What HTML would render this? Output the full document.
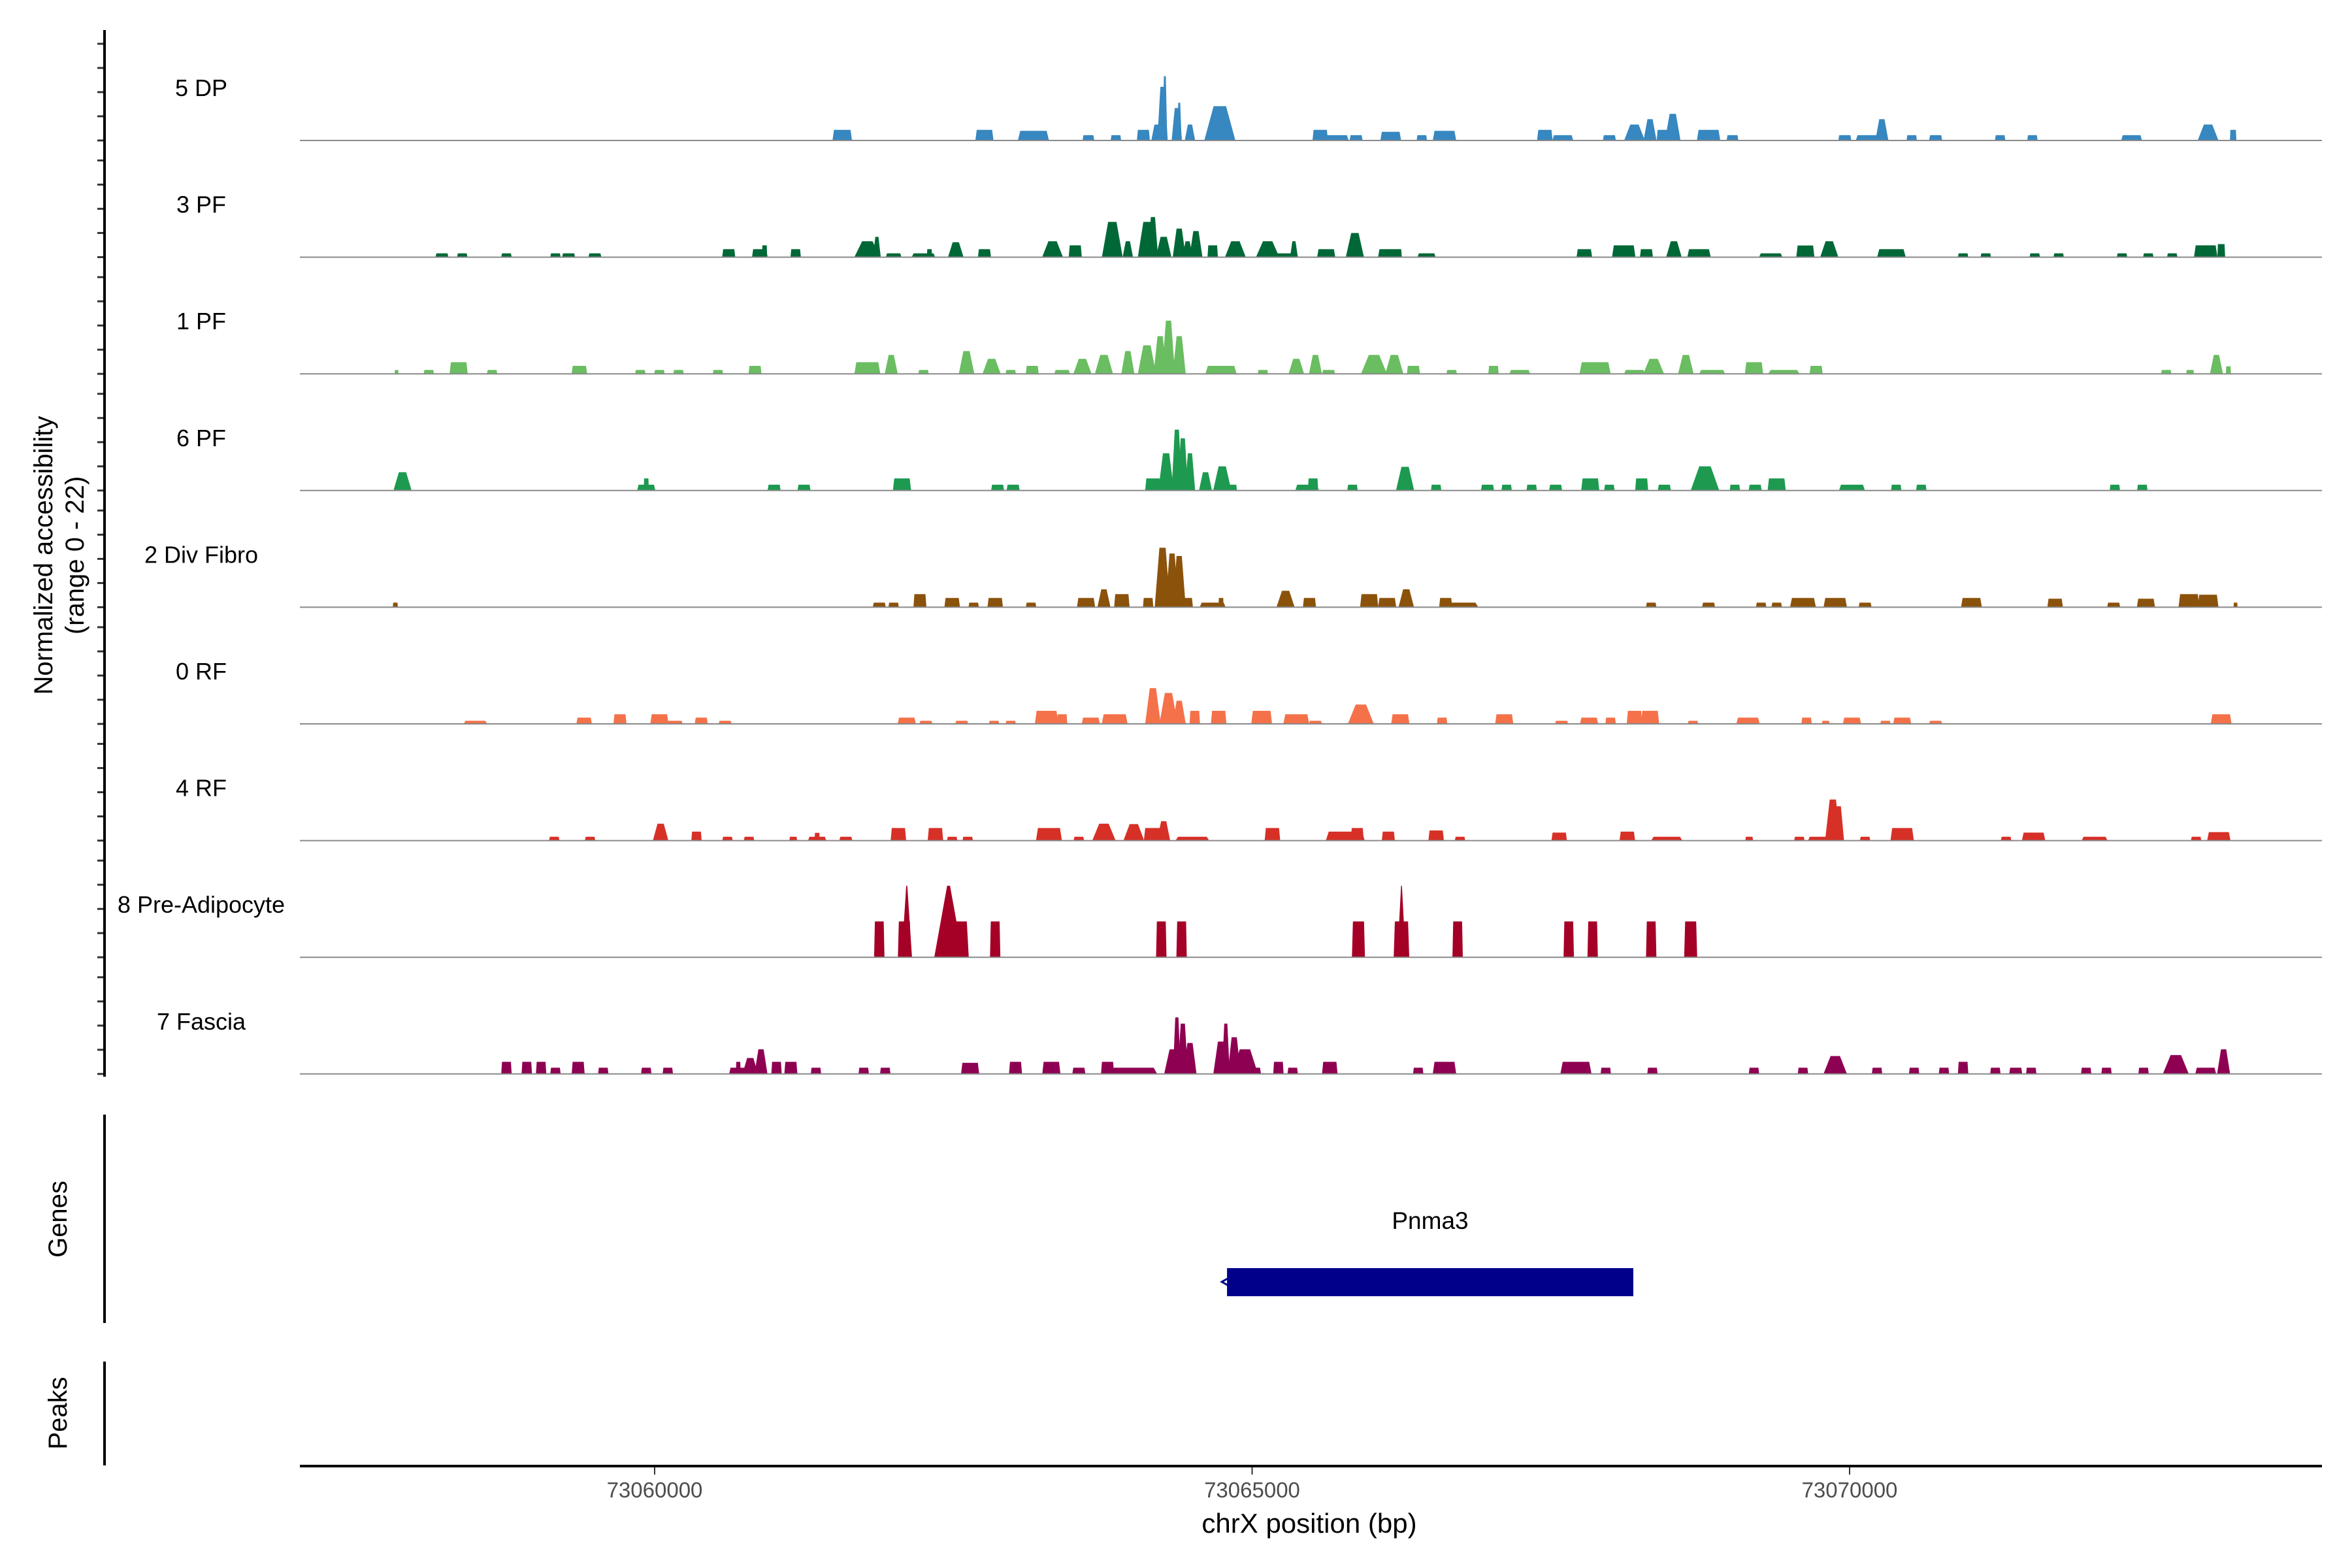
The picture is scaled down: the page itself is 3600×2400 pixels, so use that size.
<!DOCTYPE html>
<html><head><meta charset="utf-8"><title>Coverage plot chrX Pnma3</title>
<style>
html,body{margin:0;padding:0;background:#fff;}
svg{display:block;font-family:"Liberation Sans",Arial,sans-serif;}
</style></head>
<body>
<svg id="plot" width="3600" height="2400" viewBox="0 0 3600 2400" xmlns="http://www.w3.org/2000/svg">
<rect x="0" y="0" width="3600" height="2400" fill="#fff"/>
<g id="tracks"></g>
<g id="yaxis"></g>
<text transform="translate(80,850) rotate(-90)" text-anchor="middle" font-size="40" fill="#000">Normalized accessibility</text>
<text transform="translate(128,850) rotate(-90)" text-anchor="middle" font-size="40" fill="#000">(range 0 - 22)</text>
<line x1="160" y1="1706" x2="160" y2="2025" stroke="#000" stroke-width="4"/>
<text transform="translate(102,1866) rotate(-90)" text-anchor="middle" font-size="40" fill="#000">Genes</text>
<line x1="160" y1="2084" x2="160" y2="2243" stroke="#000" stroke-width="4"/>
<text transform="translate(102,2163) rotate(-90)" text-anchor="middle" font-size="40" fill="#000">Peaks</text>
<g id="genes"></g>
<g id="xaxis"></g>
<text x="2004" y="2346" text-anchor="middle" font-size="42" fill="#000">chrX position (bp)</text>
</svg>
<script>
// ---- data ----
const startKb = 73057; // positions below are kb offsets from 73,057 kb
const trackNames = ["5 DP","3 PF","1 PF","6 PF","2 Div Fibro","0 RF","4 RF","8 Pre-Adipocyte","7 Fascia"];
const trackColors = ["#3787c0","#006837","#6abd61","#1d9a50","#8b520b","#f4714a","#d73027","#a50026","#8e0152"];
// each peak: [position kb offset, width bp, height (normalized)]
const peaks5DP = [[4.57,163,2.2],[5.76,152,2.2],[6.17,260,2.0],[6.63,98,1.1],[6.86,87,1.1],[7.09,109,2.2],[7.20,87,3.3],[7.25,87,11.1],[7.27,40,13.3],[7.37,87,6.7],[7.39,40,7.8],[7.48,87,3.3],[7.73,260,7.1],[8.57,130,2.2],[8.70,217,1.1],[8.87,109,1.1],[9.16,174,1.8],[9.42,87,1.1],[9.61,196,2.0],[10.45,130,2.2],[10.60,174,1.1],[10.99,109,1.1],[11.20,174,3.3],[11.33,109,4.4],[11.44,109,2.2],[11.52,130,5.5],[11.82,196,2.2],[12.02,98,1.1],[12.96,109,1.1],[13.15,196,1.1],[13.27,109,4.4],[13.52,87,1.1],[13.72,109,1.1],[14.26,87,1.1],[14.53,87,1.1],[15.36,174,1.1],[16.00,174,3.3],[16.21,54,2.2]];
const peaks3PF = [[1.22,109,0.8],[1.39,87,0.8],[1.76,87,0.8],[2.17,87,0.8],[2.28,109,0.8],[2.50,109,0.8],[3.62,109,1.65],[3.88,130,1.65],[3.92,43,2.45],[4.18,87,1.65],[4.78,217,3.3],[4.86,65,4.2],[5.00,130,0.8],[5.25,196,0.8],[5.30,43,1.65],[5.52,130,3.1],[5.76,109,1.65],[6.33,174,3.3],[6.52,109,2.45],[6.83,174,7.3],[6.96,87,3.3],[7.12,152,7.3],[7.17,87,8.3],[7.26,130,4.2],[7.39,109,5.9],[7.46,87,3.3],[7.53,109,5.4],[7.67,87,2.45],[7.86,174,3.3],[8.13,196,3.3],[8.26,217,0.8],[8.35,65,3.3],[8.62,152,1.65],[8.86,152,5.0],[9.13,152,1.65],[9.22,65,1.65],[9.46,152,0.8],[10.78,130,1.65],[11.11,196,2.45],[11.30,109,1.65],[11.53,130,3.3],[11.74,196,1.65],[12.34,196,0.8],[12.63,152,2.4],[12.83,152,3.3],[13.35,239,1.65],[13.95,87,0.8],[14.14,87,0.8],[14.55,87,0.8],[14.75,87,0.8],[15.28,87,0.8],[15.50,87,0.8],[15.70,87,0.8],[15.98,196,2.45],[16.11,65,2.7]];
const peaks1PF = [[0.84,33,0.8],[1.11,87,0.8],[1.36,152,2.4],[1.64,87,0.8],[2.37,130,1.65],[2.88,87,0.8],[3.04,87,0.8],[3.20,87,0.8],[3.53,87,0.8],[3.84,109,1.65],[4.78,217,2.4],[4.98,109,3.9],[5.25,87,0.8],[5.61,130,4.7],[5.82,152,3.1],[5.98,87,0.8],[6.16,109,1.65],[6.41,130,0.8],[6.58,152,3.1],[6.76,152,3.9],[6.96,109,4.7],[7.12,152,5.9],[7.23,109,7.8],[7.30,109,11.0],[7.39,109,7.8],[7.74,261,1.65],[8.09,87,0.8],[8.37,130,3.1],[8.53,109,3.9],[8.64,109,0.8],[9.02,217,3.9],[9.19,152,3.9],[9.35,109,1.65],[9.67,87,0.8],[10.02,87,1.65],[10.24,174,0.8],[10.87,261,2.4],[11.20,174,0.8],[11.36,174,3.1],[11.63,130,3.9],[11.85,217,0.8],[12.20,152,2.4],[12.45,261,0.8],[12.72,109,1.65],[15.65,87,0.8],[15.85,65,0.8],[16.07,109,3.9],[16.17,43,1.55]];
const peaks6PF = [[0.89,152,3.8],[2.93,152,1.2],[2.93,43,2.5],[4.00,109,1.2],[4.25,109,1.2],[5.07,152,2.5],[5.87,109,1.2],[6.00,109,1.2],[7.17,130,2.5],[7.28,130,7.7],[7.37,87,12.6],[7.42,87,10.8],[7.48,87,7.7],[7.61,109,3.8],[7.75,152,5.0],[7.83,87,1.2],[8.46,196,1.2],[8.51,87,2.5],[8.84,87,1.2],[9.28,152,4.9],[9.54,87,1.2],[9.97,109,1.2],[10.13,87,1.2],[10.34,87,1.2],[10.54,109,1.2],[10.83,152,2.5],[10.99,87,1.2],[11.26,109,2.5],[11.45,109,1.2],[11.79,239,5.0],[12.04,87,1.2],[12.21,109,1.2],[12.39,152,2.5],[13.02,217,1.2],[13.39,87,1.2],[13.60,87,1.2],[15.22,87,1.2],[15.45,87,1.2]];
const peaks2Div = [[0.83,43,0.95],[4.88,109,0.95],[5.00,87,0.95],[5.22,109,2.7],[5.49,130,1.9],[5.67,87,0.95],[5.85,130,1.9],[6.15,87,0.95],[6.61,152,1.9],[6.76,109,3.7],[6.91,130,2.7],[7.13,87,1.9],[7.25,130,12.3],[7.33,109,11.1],[7.39,109,10.6],[7.45,109,1.9],[7.67,217,0.95],[7.74,43,1.9],[8.28,152,3.4],[8.48,109,1.9],[8.98,152,2.7],[9.13,152,1.9],[9.29,130,3.7],[9.62,109,1.9],[9.73,326,0.95],[11.34,87,0.95],[11.82,109,0.95],[12.26,87,0.95],[12.39,87,0.95],[12.61,217,1.9],[12.88,196,1.9],[13.13,109,0.95],[14.02,174,1.9],[14.72,130,1.75],[15.21,109,0.95],[15.48,152,1.75],[15.84,174,2.7],[16.00,174,2.6],[16.23,33,0.95]];
const peaks0RF = [[1.50,196,0.65],[2.41,130,1.3],[2.71,109,2.0],[3.04,152,2.0],[3.17,130,0.65],[3.39,109,1.3],[3.59,109,0.65],[5.11,152,1.3],[5.27,109,0.65],[5.57,109,0.65],[5.84,87,0.65],[5.98,87,0.65],[6.28,196,2.7],[6.41,87,2.0],[6.65,152,1.3],[6.85,217,2.0],[7.17,130,7.4],[7.30,152,6.4],[7.39,109,4.8],[7.52,87,2.7],[7.72,130,2.7],[8.08,174,2.7],[8.37,217,2.0],[8.53,109,0.65],[8.91,217,4.0],[9.24,152,2.0],[9.59,87,1.3],[10.11,152,2.0],[10.59,109,0.65],[10.82,152,1.3],[11.00,87,1.3],[11.20,130,2.7],[11.33,152,2.7],[11.69,87,0.65],[12.15,196,1.3],[12.64,87,1.3],[12.80,65,0.65],[13.02,152,1.3],[13.30,87,0.65],[13.44,152,1.3],[13.72,109,0.65],[16.11,174,2.0]];
const peaks4RF = [[2.16,87,0.8],[2.46,87,0.8],[3.05,130,3.5],[3.35,87,1.85],[3.61,87,0.8],[3.79,87,0.8],[4.16,65,0.8],[4.36,152,0.8],[4.36,43,1.6],[4.60,109,0.8],[5.04,130,2.6],[5.35,130,2.6],[5.49,87,0.8],[5.62,87,0.8],[6.30,217,2.6],[6.55,87,0.8],[6.76,196,3.5],[7.01,174,3.4],[7.17,152,2.6],[7.26,109,4.0],[7.50,283,0.8],[8.17,130,2.6],[8.78,326,1.85],[8.88,109,2.6],[9.14,109,1.85],[9.54,130,2.1],[9.74,87,0.8],[10.57,130,1.65],[11.14,130,1.85],[11.47,261,0.8],[12.16,65,0.8],[12.58,87,0.8],[12.74,174,0.8],[12.86,130,8.5],[12.91,87,7.1],[13.13,87,0.8],[13.44,196,2.6],[14.31,87,0.8],[14.54,196,1.65],[15.05,217,0.8],[15.90,87,0.8],[16.09,196,1.75]];
const peaks8PA = [[4.88,87,7.4],[5.09,109,7.4],[5.11,87,14.8],[5.46,240,14.8],[5.52,217,7.4],[5.85,87,7.4],[7.24,87,7.4],[7.41,87,7.4],[8.89,109,7.4],[9.25,130,7.4],[9.25,70,14.8],[9.72,87,7.4],[10.65,87,7.4],[10.85,87,7.4],[11.34,87,7.4],[11.67,109,7.4]];
const peaks7Fas = [[1.76,87,2.5],[1.93,87,2.5],[2.05,87,2.5],[2.17,87,1.3],[2.36,109,2.5],[2.57,87,1.3],[2.93,87,1.3],[3.11,87,1.3],[3.70,152,1.3],[3.70,40,2.5],[3.80,130,3.3],[3.89,109,5.1],[4.02,87,2.5],[4.14,109,2.5],[4.35,87,1.3],[4.75,87,1.3],[4.93,87,1.3],[5.64,152,2.3],[6.02,109,2.5],[6.32,152,2.5],[6.55,109,1.3],[6.79,109,2.5],[7.01,391,1.3],[7.34,152,5.1],[7.37,65,11.7],[7.42,87,10.4],[7.48,109,6.4],[7.74,130,6.7],[7.78,65,10.4],[7.85,109,7.6],[7.94,217,5.1],[8.02,109,1.3],[8.22,87,2.5],[8.34,87,1.3],[8.65,130,2.5],[9.39,87,1.3],[9.61,196,2.5],[10.71,261,2.5],[10.96,87,1.3],[11.35,87,1.3],[12.20,87,1.3],[12.61,87,1.3],[12.88,196,3.7],[13.23,87,1.3],[13.54,87,1.3],[13.79,87,1.3],[13.95,87,2.5],[14.22,87,1.3],[14.39,109,1.3],[14.52,87,1.3],[14.98,87,1.3],[15.15,87,1.3],[15.46,87,1.3],[15.73,217,3.9],[15.98,174,1.3],[16.13,109,5.1]];
const trackPeaks = [peaks5DP,peaks3PF,peaks1PF,peaks6PF,peaks2Div,peaks0RF,peaks4RF,peaks8PA,peaks7Fas];
const xTickValues = [73060000,73065000,73070000];
const xTickLabels = ["73060000","73065000","73070000"];
const yTickUnits = [0,5,10,15,20];
const geneName = "Pnma3";
const geneStartBp = 73064790;
const geneEndBp = 73068190;

// ---- scales ----
const NS = "http://www.w3.org/2000/svg";
const X0 = 1002, BP0 = 73060000, PXPERBP = 914.5/5000;
function xBp(bp){ return X0 + (bp - BP0) * PXPERBP; }
function xKb(off){ return xBp((startKb + off) * 1000); }
const PLOT_L = 459, PLOT_R = 3554;
const BASE0 = 215, TRACK_STEP = 178.6, PX_PER_UNIT = 7.4;
function baseY(i){ return BASE0 + i * TRACK_STEP; }
function yVal(i, v){ return baseY(i) - v * PX_PER_UNIT; }
function mk(tag, attrs, parent){
  const e = document.createElementNS(NS, tag);
  for (const k in attrs) e.setAttribute(k, attrs[k]);
  parent.appendChild(e);
  return e;
}

const gT = document.getElementById('tracks');
const gY = document.getElementById('yaxis');
trackNames.forEach((name, i) => {
  const g = mk('g', {}, gT);
  
  
  const lbl = mk('text', {x: 308, y: baseY(i) - 68, 'text-anchor': 'middle', 'font-size': 36, fill: '#000'}, g);
  lbl.textContent = name;
  
  
  const b = baseY(i);
  trackPeaks[i].forEach(p => {
    const cx = xKb(p[0]);
    const w = p[1] * PXPERBP;
    const top = yVal(i, p[2]);
    let tw;
    if (i === 7) tw = p[2] > 10 ? 0.1 * w : 0.85 * w;
    else tw = p[2] > 3 ? 0.4 * w : 0.85 * w;
    const pts = [[cx - w/2, b], [cx - tw/2, top], [cx + tw/2, top], [cx + w/2, b]]
      .map(q => q[0].toFixed(1) + ',' + q[1].toFixed(1)).join(' ');
    const poly = mk('polygon', {points: pts, fill: trackColors[i]}, g);
    
    
  });
  const bl = mk('line', {x1: PLOT_L, x2: PLOT_R, y1: b, y2: b, stroke: '#8a8a8a', 'stroke-width': 2}, g);
  
  
  yTickUnits.forEach(u => {
    const t = mk('line', {x1: 149, x2: 160, y1: yVal(i, u), y2: yVal(i, u), stroke: '#333', 'stroke-width': 3}, gY);
    
    
  });
});
const ax = mk('line', {x1: 160, x2: 160, y1: 46, y2: 1648, stroke: '#000', 'stroke-width': 4}, gY);



// gene track
const gG = document.getElementById('genes');
const gl = mk('text', {x: 2189, y: 1881, 'text-anchor': 'middle', 'font-size': 37, fill: '#000'}, gG);
gl.textContent = geneName;


const gr = mk('rect', {x: xBp(geneStartBp), y: 1941, width: xBp(geneEndBp) - xBp(geneStartBp), height: 43, fill: '#00008b'}, gG);


const ga = mk('polyline', {points: (xBp(geneStartBp)+8)+',1953 '+(xBp(geneStartBp)-8)+',1962 '+(xBp(geneStartBp)+8)+',1971', fill: 'none', stroke: '#00008b', 'stroke-width': 3}, gG);



// x axis
const gX = document.getElementById('xaxis');
const xl = mk('line', {x1: PLOT_L, x2: PLOT_R, y1: 2244, y2: 2244, stroke: '#000', 'stroke-width': 4}, gX);


xTickValues.forEach((v, k) => {
  const t = mk('line', {x1: xBp(v), x2: xBp(v), y1: 2246, y2: 2257, stroke: '#333', 'stroke-width': 2}, gX);
  
  
  const tl = mk('text', {x: xBp(v), y: 2292, 'text-anchor': 'middle', 'font-size': 33, fill: '#4d4d4d'}, gX);
  tl.textContent = xTickLabels[k];
  
  
});
</script>
</body></html>
